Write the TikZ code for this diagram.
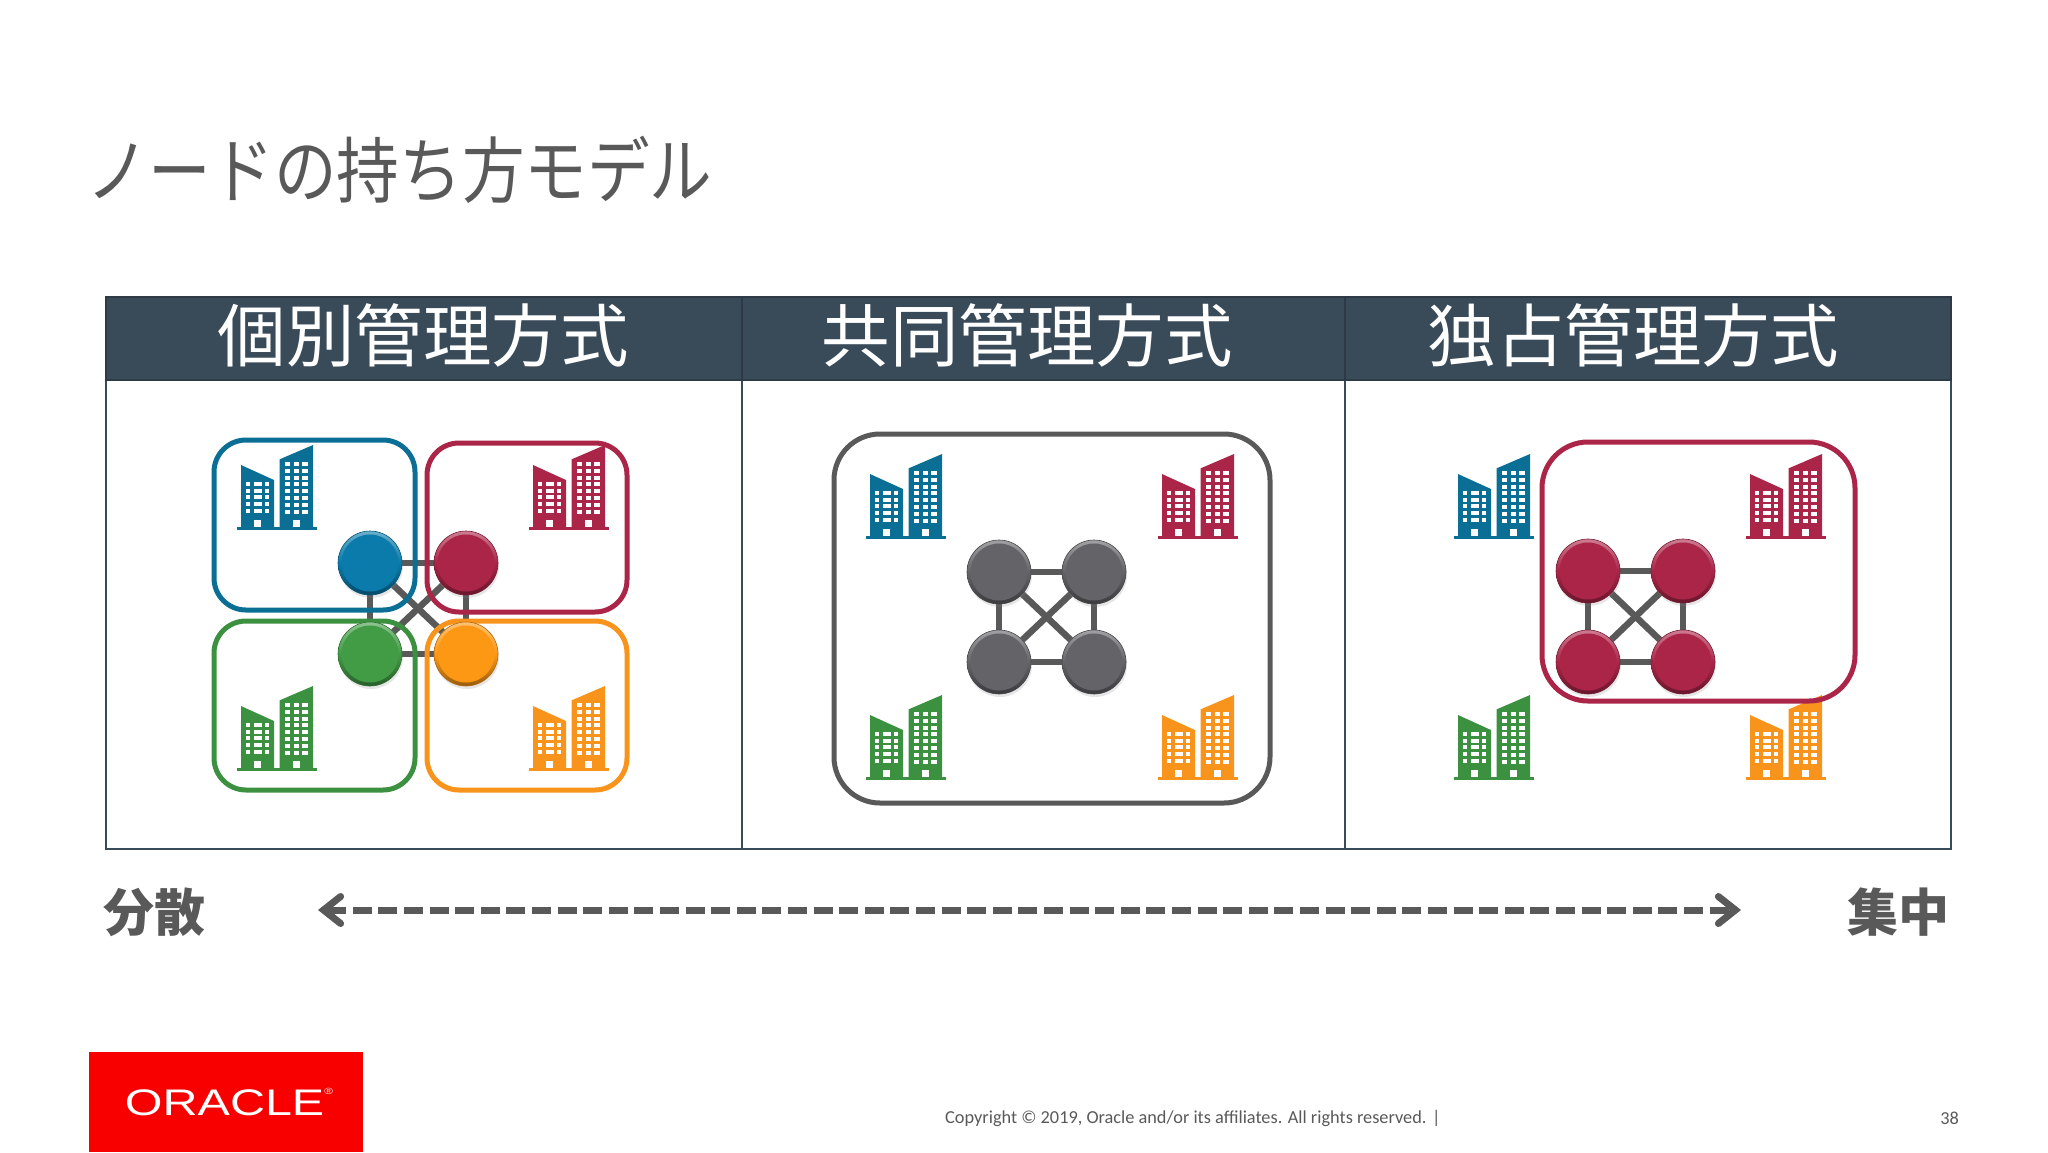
\documentclass[tikz,border=0pt]{standalone}
\usepackage{fontspec}
\usetikzlibrary{arrows.meta,backgrounds,shadows}
\newfontfamily\cjkfont{Noto Sans CJK JP}
\newfontfamily\footfont{Carlito}
\newfontfamily\logofont{Liberation Sans}
\definecolor{site blue}{HTML}{0B6F95}
\definecolor{site red}{HTML}{AB2548}
\definecolor{site green}{HTML}{3C9140}
\definecolor{site orange}{HTML}{F8931C}
\definecolor{ball blue}{HTML}{0A7BAA}
\definecolor{ball green}{HTML}{429C46}
\definecolor{ball orange}{HTML}{FD9815}
\definecolor{ball gray}{HTML}{636368}
\definecolor{link gray}{HTML}{595959}
\definecolor{panel slate}{HTML}{394A58}
\definecolor{logo red}{HTML}{F80000}
\tikzset{
    x={1pt},
    y={-1pt},
    panel frame/.style={
        draw=panel slate,
        line width={1.8pt},
    },
    panel header/.style={
        fill=panel slate,
        draw=panel slate!80!black,
        line width={1.5pt},
    },
    panel title/.style={
        font={\cjkfont\fontsize{68.5}{68.5}\selectfont},
        text=white,
        inner sep=0pt,
    },
    site frame/.style={
        draw={#1},
        line width={5pt},
        rounded corners={32pt},
    },
    wide frame/.style={
        site frame={#1},
        rounded corners={46pt},
    },
    mesh link/.style={
        draw=link gray,
        line width={6.5pt},
    },
    mesh node/.style={
        circle,
        draw={#1!70!black},
        line width={0.6pt},
        inner sep=0pt,
        minimum size={64},
        top color={#1!60!white},
        bottom color={#1!60!black},
        middle color={#1},
        drop shadow={shadow xshift=1pt, shadow yshift=-3pt, opacity=0.2},
        path picture={\fill[#1] (path picture bounding box.center) circle (28.5pt);},
    },
    scale label/.style={
        font={\cjkfont\bfseries\fontsize{51}{51}\selectfont},
        text=link gray,
        inner sep=0pt,
    },
    scale arrow/.style={
        draw=link gray,
        line width={7pt},
        dash pattern=on 19pt off 6.6pt,
        {Straight Barb[length=17pt,width=27pt,line cap=round,line width=7pt]}-{Straight Barb[length=17pt,width=27pt,line cap=round,line width=7pt]},
    },
    foot text/.style={
        font={\footfont\fontsize{18.3}{18.3}\selectfont},
        text=link gray,
        inner sep=0pt,
    },
    pics/building/.style={
        code={
            \fill[#1] (0,-3.3) rectangle (80,0);
            \fill[#1] (4,-2) -- (4,-65) -- (37,-50) -- (37,-2) -- cycle;
            \fill[#1] (42.7,-2) -- (42.7,-70.7) -- (76,-85) -- (76,-2) -- cycle;
            % windows
            \path[draw=white, dash pattern=on 4pt off 2.8pt, line width={4.3pt}] (11.1,-48.3) -- (11.1,-17.3);
            \path[draw=white, dash pattern=on 4pt off 2.8pt, line width={8.3pt}] (20.8,-48.3) -- (20.8,-17.3);
            \path[draw=white, dash pattern=on 4pt off 2.8pt, line width={4pt}] (30.3,-48.3) -- (30.3,-17.3);
            \path[draw=white, dash pattern=on 4pt off 2.8pt, line width={5pt}] (50.8,-68) -- (50.8,-16.4);
            \path[draw=white, dash pattern=on 4pt off 2.8pt, line width={5.6pt}] (59.5,-68) -- (59.5,-16.4);
            \path[draw=white, dash pattern=on 4pt off 2.8pt, line width={6pt}] (68,-68) -- (68,-16.4);
            % doors
            \fill[white] (16.7,-10) rectangle (24,-3.3);
            \fill[white] (56,-10) rectangle (63.3,-3.3);
        }
    },
}

\begin{document}
\begin{tikzpicture}
\useasboundingbox (0,0) rectangle (2048,1152);
% title
\node[anchor=west, inner sep=0pt, text=link gray, xscale=0.87, font={\cjkfont\fontsize{72}{72}\selectfont}] (slide title) at (86,170) {ノードの持ち方モデル};
% panels
\path[panel frame] (106,380) rectangle (742,849);
\path[panel frame] (742,380) rectangle (1345,849);
\path[panel frame] (1345,380) rectangle (1951,849);
\path[panel header] (106,297) rectangle (1951,380);
\path[panel frame, draw=panel slate!80!black] (742,297) -- (742,380) (1345,297) -- (1345,380);
\node[panel title] (title separate) at (423,335) {個別管理方式};
\node[panel title] (title shared) at (1027,335) {共同管理方式};
\node[panel title] (title exclusive) at (1633,335) {独占管理方式};
% separate nodes
\node[mesh node={ball blue}] (sep blue) at (370,563) {};
\node[mesh node={site red}] (sep red) at (466,563) {};
\node[mesh node={ball green}] (sep green) at (370,654) {};
\node[mesh node={ball orange}] (sep orange) at (466,654) {};
% shared nodes
\node[mesh node={ball gray}] (mid nw) at (999,572) {};
\node[mesh node={ball gray}] (mid ne) at (1094,572) {};
\node[mesh node={ball gray}] (mid sw) at (999,662) {};
\node[mesh node={ball gray}] (mid se) at (1094,662) {};
% exclusive nodes
\node[mesh node={site red}] (own nw) at (1588,571) {};
\node[mesh node={site red}] (own ne) at (1683,571) {};
\node[mesh node={site red}] (own sw) at (1588,662) {};
\node[mesh node={site red}] (own se) at (1683,662) {};
% buildings
\pic (bld a) at (237,530) {building={site blue}};
\pic (bld b) at (529,530) {building={site red}};
\pic (bld c) at (237,771) {building={site green}};
\pic (bld d) at (529,771) {building={site orange}};
\pic (bld e) at (866,539) {building={site blue}};
\pic (bld f) at (1158,539) {building={site red}};
\pic (bld g) at (866,780) {building={site green}};
\pic (bld h) at (1158,780) {building={site orange}};
\pic (bld i) at (1454,539) {building={site blue}};
\pic (bld j) at (1746,539) {building={site red}};
\pic (bld k) at (1454,780) {building={site green}};
\pic (bld l) at (1746,780) {building={site orange}};
% frames and links
\begin{scope}[on background layer]
\path[mesh link] (sep blue) -- (sep red);
\path[mesh link] (sep blue) -- (sep green);
\path[mesh link] (sep red) -- (sep orange);
\path[mesh link] (sep green) -- (sep orange);
\path[mesh link] (sep blue) -- (sep orange);
\path[mesh link] (sep red) -- (sep green);
\path[mesh link] (mid nw) -- (mid ne);
\path[mesh link] (mid nw) -- (mid sw);
\path[mesh link] (mid ne) -- (mid se);
\path[mesh link] (mid sw) -- (mid se);
\path[mesh link] (mid nw) -- (mid se);
\path[mesh link] (mid ne) -- (mid sw);
\path[mesh link] (own nw) -- (own ne);
\path[mesh link] (own nw) -- (own sw);
\path[mesh link] (own ne) -- (own se);
\path[mesh link] (own sw) -- (own se);
\path[mesh link] (own nw) -- (own se);
\path[mesh link] (own ne) -- (own sw);
\path[site frame={site blue}] (214,440) rectangle (415,610);
\path[site frame={site red}] (427,443) rectangle (627,612);
\path[site frame={site green}] (214,621) rectangle (415,790);
\path[site frame={site orange}] (427,621) rectangle (627,790);
\path[wide frame={link gray}] (834,434) rectangle (1270,803);
\end{scope}
\path[wide frame={site red}] (1542,442) rectangle (1855,701);
% scale
\node[scale label] (scale low) at (154,912) {分散};
\node[scale label] (scale high) at (1898,912) {集中};
\coordinate (scale west) at (318,910);
\coordinate (scale east) at (1741,910);
\path[scale arrow] (scale west) -- (scale east);
% footer
\path[fill=logo red] (89,1052) rectangle (363,1152);
\node[inner sep=0pt, text=white, xscale=1.31, font={\logofont\fontsize{37}{37}\selectfont}] (logo text) at (229,1102) {ORACLE\raisebox{1.1ex}{\fontsize{9}{9}\selectfont ®}};
\node[foot text, anchor=west] (copyright) at (945,1118) {Copyright © 2019, Oracle and/or its affiliates. All rights reserved.  |};
\node[foot text, anchor=east] (page number) at (1959,1118) {38};
\end{tikzpicture}
\end{document}
